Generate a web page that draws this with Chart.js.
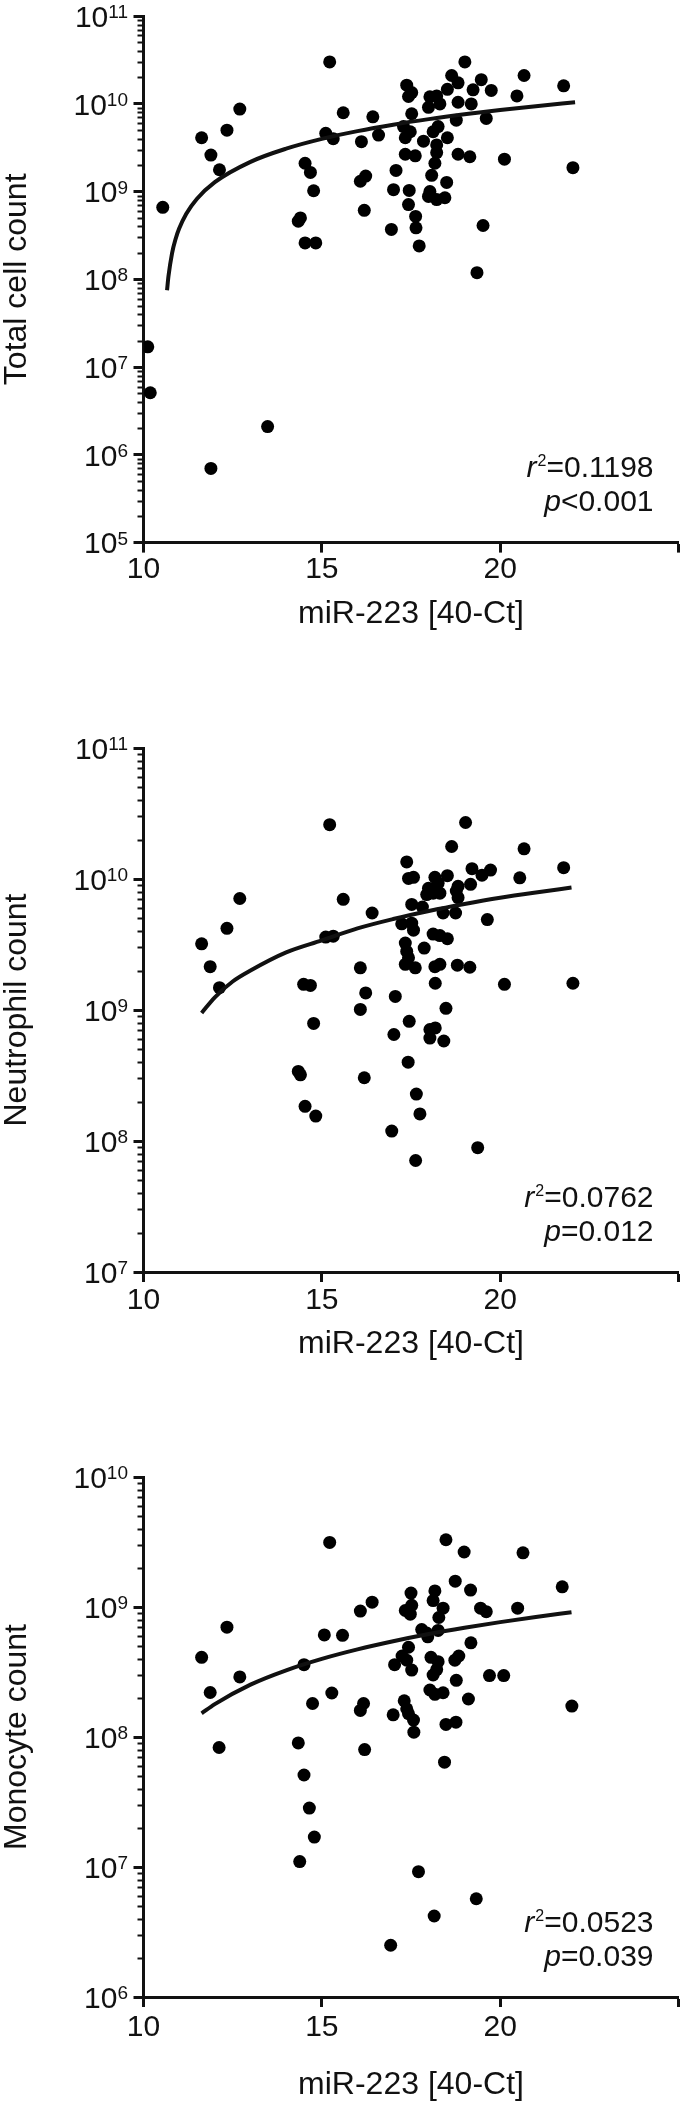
<!DOCTYPE html>
<html lang="en">
<head>
<meta charset="UTF-8">
<title>miR-223 vs cell counts</title>
<script src="https://cdn.jsdelivr.net/npm/chart.js@4"></script>
<style>
  html, body { margin: 0; padding: 0; background: #fff; }
  body { width: 685px; height: 2105px; position: relative; overflow: hidden; }
  .panel { position: absolute; left: 0; width: 685px; }
  .panel canvas { display: block; }
</style>
</head>
<body>
<div class="panel" style="top:0;height:700px"><canvas id="chartTotal" width="685" height="700"></canvas></div>
<div class="panel" style="top:700px;height:700px"><canvas id="chartNeut" width="685" height="700"></canvas></div>
<div class="panel" style="top:1400px;height:705px"><canvas id="chartMono" width="685" height="705"></canvas></div>

<script>
// x tick labels (25 gets a tick mark but no label)
const xTicks = [10, 15, 20, 25];
const xTickLabels = ['10', '15', '20', ''];
const xTitle = 'miR-223 [40-Ct]';

// total cell count
const totalX = [19.01, 18.64, 18.82, 19.47, 17.38, 17.52, 17.43, 18.52, 19.24, 19.75, 18.03, 18.22, 18.31, 17.99, 18.82, 19.19,
  17.52, 16.43, 19.61, 18.77, 18.26, 18.12, 16.59, 17.29, 17.34, 17.48, 17.85, 18.52, 18.22, 17.34, 17.62, 18.22, 18.82, 19.15,
  20.12, 18.17, 17.08, 18.08, 18.5, 17.01, 17.45, 17.99, 18.22, 18.45, 18.03, 17.43, 17.63, 17.64, 16.95, 17.73, 19.52, 19.35,
  20.47, 15.22, 20.67, 21.78, 12.7, 15.6, 12.34, 11.63, 15.11, 15.32, 16.11, 11.89, 12.13, 22.04, 14.53, 14.68, 14.77, 16.08,
  16.23, 16.19, 10.54, 14.34, 14.4, 14.53, 14.83, 10.12, 10.19, 13.48, 11.89];
const totalY = [3.0e10, 2.1e10, 1.73e10, 1.88e10, 1.63e10, 1.34e10, 1.21e10, 1.46e10, 1.44e10, 1.42e10, 1.2e10, 1.23e10, 9.95e9, 9.1e9, 1.04e10, 9.95e9,
  7.7e9, 7.1e9, 6.8e9, 6.5e9, 5.5e9, 4.8e9, 4.4e9, 5.5e9, 4.1e9, 4.8e9, 3.75e9, 4.1e9, 3.4e9, 2.66e9, 2.55e9, 2.78e9, 2.66e9, 2.49e9,
  2.34e9, 2.1e9, 1.74e9, 1.53e9, 1.27e9, 1.05e9, 1.03e9, 8.8e8, 8.1e8, 8.5e8, 1.0e9, 7.1e8, 5.2e8, 3.86e8, 3.7e8, 2.4e8, 4.1e8, 1.19e8,
  1.23e10, 3.0e10, 2.1e10, 1.6e10, 8.7e9, 7.9e9, 5.0e9, 4.1e9, 4.6e9, 4.0e9, 3.7e9, 2.6e9, 1.77e9, 1.87e9, 2.1e9, 1.65e9, 1.02e9, 1.31e9,
  1.5e9, 6.1e8, 6.6e8, 4.6e8, 5.0e8, 2.6e8, 2.6e8, 1.7e7, 5.1e6, 2.1e6, 7.0e5];
const totalFitX = [10.66, 10.7, 10.8, 10.9, 11.0, 11.2, 11.5, 12, 13, 14, 15, 16, 17, 18, 19, 20, 21, 22.1];
const totalFitY = [7.5e7, 1.08e8, 1.98e8, 2.88e8, 3.78e8, 5.58e8, 8.28e8, 1.28e9, 2.18e9, 3.08e9, 3.98e9, 4.88e9, 5.78e9, 6.68e9, 7.58e9, 8.48e9, 9.38e9, 1.04e10];

// neutrophil count
const neutX = [15.22, 19.03, 18.64, 20.67, 21.78, 20.55, 19.73, 19.49, 19.21, 19.17, 17.38, 12.7, 15.6, 16.41, 12.34, 11.63, 11.87, 12.13,
  15.11, 15.32, 19.64, 20.12, 22.04, 19.15, 18.8, 16.08, 16.23, 16.08, 14.49, 14.68, 14.77, 17.06, 17.02, 17.45, 17.42, 18.03, 18.18,
  18.42, 18.48, 18.18, 14.34, 14.4, 16.19, 14.53, 14.83, 17.65, 17.75, 16.96, 17.63, 19.37,
  17.43, 17.57, 18.17, 18.52, 18.26, 18.82, 17.99, 17.94, 18.12, 18.31, 18.77, 18.82, 17.52, 17.82, 18.4, 18.75, 17.24, 17.52, 17.57,
  18.12, 18.31, 18.52, 17.34, 17.87, 17.38, 17.43, 17.34, 17.62, 18.17, 18.31, 18.03];
const neutY = [2.6e10, 2.7e10, 1.77e10, 1.7e10, 1.22e10, 1.02e10, 1.17e10, 1.07e10, 1.2e10, 9.1e9, 1.35e10, 7.1e9, 7.0e9, 5.5e9, 4.2e9, 3.2e9, 2.14e9, 1.48e9,
  3.6e9, 3.66e9, 4.9e9, 1.57e9, 1.6e9, 2.12e9, 2.2e9, 2.1e9, 1.35e9, 1.01e9, 1.57e9, 1.54e9, 7.9e8, 1.27e9, 6.5e8, 8.2e8, 4.0e8, 6.1e8, 7.3e8,
  5.8e8, 1.03e9, 1.6e9, 3.4e8, 3.2e8, 3.04e8, 1.84e8, 1.55e8, 2.28e8, 1.61e8, 1.19e8, 7.1e7, 8.9e7,
  1.01e10, 1.03e10, 1.03e10, 1.06e10, 9.3e9, 8.8e9, 8.5e9, 7.6e9, 7.8e9, 7.8e9, 8.1e9, 7.2e9, 6.4e9, 6.1e9, 5.5e9, 5.5e9, 4.55e9, 4.6e9, 4.07e9,
  3.8e9, 3.7e9, 3.5e9, 3.24e9, 2.97e9, 2.8e9, 2.5e9, 2.23e9, 2.1e9, 2.14e9, 2.23e9, 7.1e8];
const neutFitX = [11.63, 12, 12.5, 13, 14, 15, 16, 17, 18, 19, 20, 21, 22];
const neutFitY = [9.5e8, 1.25e9, 1.65e9, 2.0e9, 2.75e9, 3.4e9, 4.2e9, 4.95e9, 5.7e9, 6.45e9, 7.2e9, 7.9e9, 8.6e9];

// monocyte count
const monoX = [15.22, 18.48, 18.99, 20.64, 21.74, 18.74, 19.17, 20.49, 19.45, 19.61, 16.08, 16.41, 12.34, 15.07, 15.58, 11.63, 14.5, 12.7,
  11.87, 15.28, 14.74, 16.17, 16.08, 12.12, 16.2, 14.34, 14.5, 14.65, 14.79, 14.38, 17.71, 19.33, 18.15, 16.93, 22.01, 20.1, 19.7, 19.11,
  19.18, 18.44, 18.48, 18.76, 17.0, 17.58,
  17.5, 18.17, 18.12, 17.34, 17.52, 17.48, 18.4, 18.28, 17.8, 17.94, 17.97, 18.26, 17.43, 17.25, 17.38, 17.04, 17.52, 18.06, 18.26, 18.73,
  18.84, 18.12, 18.22, 18.77, 18.03, 18.17, 18.4, 17.31, 17.38, 17.43, 17.57];
const monoY = [3.14e9, 3.29e9, 2.65e9, 2.61e9, 1.43e9, 1.58e9, 1.35e9, 9.8e8, 9.8e8, 9.2e8, 9.3e8, 1.09e9, 7.0e8, 6.1e8, 6.05e8, 4.1e8, 3.6e8, 2.9e8,
  2.2e8, 2.18e8, 1.81e8, 1.81e8, 1.6e8, 8.3e7, 8.0e7, 9.0e7, 5.1e7, 2.84e7, 1.7e7, 1.1e7, 9.2e6, 5.7e6, 4.2e6, 2.5e6, 1.73e8, 2.97e8, 2.97e8, 1.96e8,
  5.3e8, 6.4e7, 1.25e8, 1.3e8, 1.48e8, 1.09e8,
  1.28e9, 1.33e9, 1.12e9, 9.4e8, 1.03e9, 8.8e8, 9.8e8, 8.3e8, 6.7e8, 6.3e8, 5.9e8, 6.6e8, 4.9e8, 4.2e8, 3.9e8, 3.6e8, 3.27e8, 4.1e8, 3.8e8, 3.9e8,
  4.2e8, 3.0e8, 3.3e8, 2.73e8, 2.3e8, 2.13e8, 2.19e8, 1.9e8, 1.65e8, 1.51e8, 1.35e8];
const monoFitX = [11.63, 12, 13, 14, 15, 16, 17, 18, 19, 20, 21, 22];
const monoFitY = [1.52e8, 1.79e8, 2.53e8, 3.26e8, 3.99e8, 4.72e8, 5.45e8, 6.19e8, 6.92e8, 7.65e8, 8.38e8, 9.11e8];

const INK = '#111';
const FONT = '"Liberation Sans", Arial, Helvetica, sans-serif';

function pairs(xs, ys) {
  return xs.map((x, i) => ({ x: x, y: ys[i] }));
}

// y tick labels as 10 with a raised exponent, minor log ticks, r²/p annotation
const extras = {
  id: 'extras',
  afterDraw(chart, args, opts) {
    const ctx = chart.ctx;
    const area = chart.chartArea;
    const ys = chart.scales.y;
    ctx.save();
    ctx.strokeStyle = INK;
    ctx.fillStyle = INK;
    ctx.lineWidth = 2;
    const e0 = Math.round(Math.log10(ys.min)), e1 = Math.round(Math.log10(ys.max));
    for (let e = e0; e < e1; e++) {
      for (let k = 2; k <= 9; k++) {
        const py = Math.round(ys.getPixelForValue(k * Math.pow(10, e))) + 0.5;
        ctx.beginPath();
        ctx.moveTo(area.left - 1, py);
        ctx.lineTo(area.left - 6, py);
        ctx.stroke();
      }
    }

    // decade labels
    ctx.textBaseline = 'alphabetic';
    ctx.textAlign = 'right';
    for (let e = e0; e <= e1; e++) {
      const py = ys.getPixelForValue(Math.pow(10, e));
      const supRight = area.left - 15.5;
      ctx.font = '19px ' + FONT;
      const ws = ctx.measureText(String(e)).width;
      ctx.fillText(String(e), supRight, py + 2);
      ctx.font = '30px ' + FONT;
      ctx.fillText('10', supRight - ws, py + 10.8);
    }

    const right = area.right - 25;
    ctx.textAlign = 'left';
    // line 1: r² = ...
    const base1 = area.bottom - 76 + 10.5;
    ctx.font = '30px ' + FONT;
    const w1 = ctx.measureText(opts.r2).width;
    ctx.font = '16px ' + FONT;
    const wSup = ctx.measureText('2').width;
    ctx.font = 'italic 30px ' + FONT;
    const wr = ctx.measureText('r').width;
    let x = right - w1 - wSup - wr - 1;
    ctx.fillText('r', x, base1);
    x += wr + 1;
    ctx.font = '16px ' + FONT;
    ctx.fillText('2', x, base1 - 11);
    x += wSup;
    ctx.font = '30px ' + FONT;
    ctx.fillText(opts.r2, x, base1);
    // line 2: p ...
    const base2 = area.bottom - 42 + 10.5;
    const w2 = ctx.measureText(opts.p).width;
    ctx.font = 'italic 30px ' + FONT;
    const wp = ctx.measureText('p').width;
    x = right - w2 - wp;
    ctx.fillText('p', x, base2);
    ctx.font = '30px ' + FONT;
    ctx.fillText(opts.p, x + wp, base2);
    ctx.restore();
  }
};

function makeChart(id, p) {
  const decades = [];
  for (let e = p.eMin; e <= p.eMax; e++) decades.push(Math.pow(10, e));
  return new Chart(document.getElementById(id), {
    data: {
      datasets: [
        {
          type: 'line',
          data: pairs(p.fitX, p.fitY),
          borderColor: INK,
          borderWidth: 4,
          pointRadius: 0,
          fill: false,
          cubicInterpolationMode: 'monotone'
        },
        {
          type: 'scatter',
          data: pairs(p.xs, p.ys),
          backgroundColor: '#000',
          borderColor: '#000',
          borderWidth: 0,
          pointRadius: 6.5,
          pointHoverRadius: 6.5
        }
      ]
    },
    options: {
      responsive: false,
      animation: false,
      events: [],
      layout: { padding: { top: p.top, right: 2.5, left: 0, bottom: 0 } },
      plugins: {
        legend: { display: false },
        tooltip: { enabled: false },
        extras: { r2: p.r2, p: p.p }
      },
      scales: {
        x: {
          type: 'linear',
          min: 10,
          max: 25,
          afterBuildTicks: s => { s.ticks = xTicks.map(v => ({ value: v })); },
          afterFit: s => { s.height = p.h - p.bottom; },
          ticks: {
            autoSkip: false,
            maxRotation: 0,
            padding: p.xTickPad,
            color: INK,
            font: { family: FONT, size: 30, lineHeight: 1 },
            callback: v => xTickLabels[xTicks.indexOf(v)]
          },
          grid: { display: true, drawOnChartArea: false, tickLength: 10, tickWidth: 3, tickColor: INK },
          border: { display: true, color: INK, width: 3 },
          title: {
            display: true,
            text: xTitle,
            color: INK,
            font: { family: FONT, size: 32, lineHeight: 1 },
            padding: { top: 0, bottom: p.xTitlePad }
          }
        },
        y: {
          type: 'logarithmic',
          min: decades[0],
          max: decades[decades.length - 1],
          afterBuildTicks: s => { s.ticks = decades.map(v => ({ value: v, major: true })); },
          afterFit: s => { s.width = 143.5; },
          ticks: { display: false, autoSkip: false },
          grid: { display: true, drawOnChartArea: false, tickLength: 10, tickWidth: 3, tickColor: INK },
          border: { display: true, color: INK, width: 3 },
          title: {
            display: true,
            text: p.yTitle,
            color: INK,
            font: { family: FONT, size: 32, lineHeight: 1 },
            padding: { top: 1, bottom: 0 }
          }
        }
      }
    },
    plugins: [extras]
  });
}

makeChart('chartTotal', {
  xs: totalX, ys: totalY, fitX: totalFitX, fitY: totalFitY,
  eMin: 5, eMax: 11, yTitle: 'Total cell count', r2: '=0.1198', p: '<0.001',
  h: 700, top: 16, bottom: 542.6, xTickPad: 2, xTitlePad: 70
});
makeChart('chartNeut', {
  xs: neutX, ys: neutY, fitX: neutFitX, fitY: neutFitY,
  eMin: 7, eMax: 11, yTitle: 'Neutrophil count', r2: '=0.0762', p: '=0.012',
  h: 700, top: 48, bottom: 572, xTickPad: 3.5, xTitlePad: 40
});
makeChart('chartMono', {
  xs: monoX, ys: monoY, fitX: monoFitX, fitY: monoFitY,
  eMin: 6, eMax: 10, yTitle: 'Monocyte count', r2: '=0.0523', p: '=0.039',
  h: 705, top: 77, bottom: 597, xTickPad: 6, xTitlePad: 4
});
</script>
</body>
</html>
